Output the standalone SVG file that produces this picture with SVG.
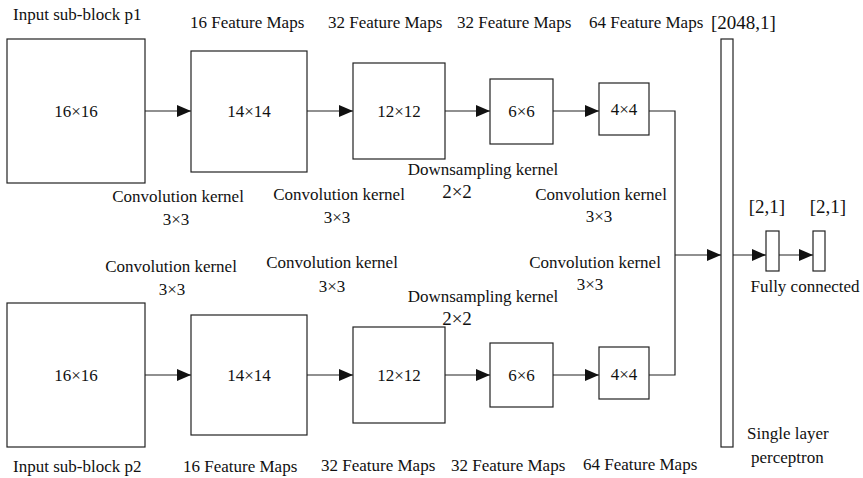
<svg xmlns="http://www.w3.org/2000/svg" width="863" height="478" viewBox="0 0 863 478">
<style>
.box{fill:#fff;stroke:#222;stroke-width:1.2}
.ln{fill:none;stroke:#222;stroke-width:1.2}
text{font-family:"Liberation Serif","Times New Roman",serif;font-size:17px;fill:#111}
.c{text-anchor:middle}
.big{font-size:19px}
</style>
<defs>
<marker id="ah" markerUnits="userSpaceOnUse" markerWidth="14" markerHeight="12" refX="14" refY="6" orient="auto">
<path d="M0,0 L14,6 L0,12 z" fill="#111"/>
</marker>
</defs>
<rect width="863" height="478" fill="#fff"/>
<g id="connectors">
<line class="ln" x1="145" y1="111" x2="191" y2="111" marker-end="url(#ah)"/>
<line class="ln" x1="307" y1="111" x2="353" y2="111" marker-end="url(#ah)"/>
<line class="ln" x1="445" y1="111" x2="490" y2="111" marker-end="url(#ah)"/>
<line class="ln" x1="553" y1="111" x2="599" y2="111" marker-end="url(#ah)"/>
<line class="ln" x1="145" y1="375" x2="191" y2="375" marker-end="url(#ah)"/>
<line class="ln" x1="307" y1="375" x2="353" y2="375" marker-end="url(#ah)"/>
<line class="ln" x1="445" y1="375" x2="490" y2="375" marker-end="url(#ah)"/>
<line class="ln" x1="553" y1="375" x2="599" y2="375" marker-end="url(#ah)"/>
<polyline class="ln" points="649,111 675,111 675,375 649,375"/>
<line class="ln" x1="675" y1="255" x2="721" y2="255" marker-end="url(#ah)"/>
<line class="ln" x1="733" y1="255" x2="766" y2="255" marker-end="url(#ah)"/>
<line class="ln" x1="779" y1="255" x2="813" y2="255" marker-end="url(#ah)"/>
</g>
<g id="in1"><rect class="box" x="7" y="39" width="138" height="144"/><text class="c" x="76" y="117">16×16</text></g>
<g id="c1"><rect class="box" x="191" y="51" width="116" height="121"/><text class="c" x="249" y="117">14×14</text></g>
<g id="c2"><rect class="box" x="353" y="63" width="92" height="96"/><text class="c" x="399" y="117">12×12</text></g>
<g id="d1"><rect class="box" x="490" y="79" width="63" height="65"/><text class="c" x="521.5" y="117">6×6</text></g>
<g id="c3"><rect class="box" x="599" y="83" width="50" height="52"/><text class="c" x="624" y="115">4×4</text></g>
<g id="in2"><rect class="box" x="7" y="303" width="138" height="144"/><text class="c" x="76" y="381">16×16</text></g>
<g id="c1b"><rect class="box" x="191" y="315" width="116" height="120"/><text class="c" x="249" y="381">14×14</text></g>
<g id="c2b"><rect class="box" x="353" y="327" width="92" height="96"/><text class="c" x="399" y="381">12×12</text></g>
<g id="d1b"><rect class="box" x="490" y="343" width="63" height="64"/><text class="c" x="521.5" y="381">6×6</text></g>
<g id="c3b"><rect class="box" x="599" y="347" width="50" height="52"/><text class="c" x="624" y="380">4×4</text></g>
<g id="flat"><rect class="box" x="721" y="39" width="12" height="408"/></g>
<g id="fc1"><rect class="box" x="766" y="231" width="13" height="40"/></g>
<g id="fc2"><rect class="box" x="813" y="231" width="12" height="40"/></g>
<g id="labels">
<text x="13" y="20">Input sub-block p1</text>
<text x="190" y="28">16 Feature Maps</text>
<text x="328" y="28">32 Feature Maps</text>
<text x="457" y="28">32 Feature Maps</text>
<text x="589" y="28">64 Feature Maps</text>
<text class="big" x="711" y="29">[2048,1]</text>
<text x="13" y="472">Input sub-block p2</text>
<text x="183" y="472">16 Feature Maps</text>
<text x="321" y="471">32 Feature Maps</text>
<text x="451" y="471">32 Feature Maps</text>
<text x="583" y="470">64 Feature Maps</text>
<text class="c" x="178" y="202">Convolution kernel</text>
<text class="c" x="176" y="225">3×3</text>
<text class="c" x="339" y="200">Convolution kernel</text>
<text class="c" x="337" y="223">3×3</text>
<text class="c" x="483" y="175">Downsampling kernel</text>
<text class="c big" x="457" y="198">2×2</text>
<text class="c" x="601" y="200">Convolution kernel</text>
<text class="c" x="599" y="222">3×3</text>
<text class="c" x="171" y="272">Convolution kernel</text>
<text class="c" x="172" y="295">3×3</text>
<text class="c" x="332" y="268">Convolution kernel</text>
<text class="c" x="332" y="292">3×3</text>
<text class="c" x="595" y="268">Convolution kernel</text>
<text class="c" x="590" y="290">3×3</text>
<text class="c" x="483" y="302">Downsampling kernel</text>
<text class="c big" x="457" y="325">2×2</text>
<text class="c big" x="767" y="213">[2,1]</text>
<text class="c big" x="828" y="213">[2,1]</text>
<text class="c" x="805" y="292">Fully connected</text>
<text x="747" y="439">Single layer</text>
<text x="751" y="463">perceptron</text>
</g>
</svg>
